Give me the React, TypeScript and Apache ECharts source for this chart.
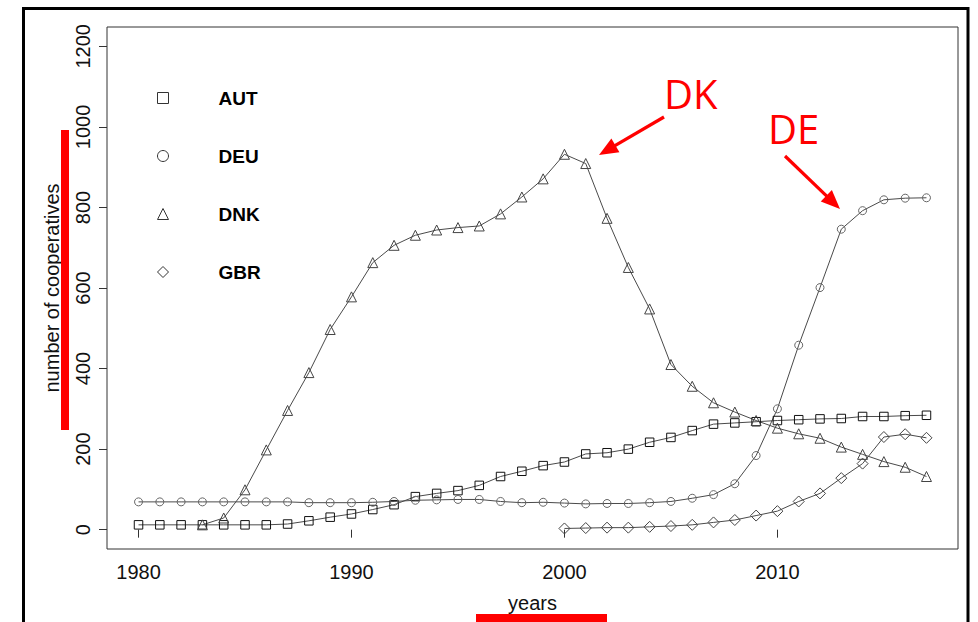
import React, { useEffect, useRef } from "react";
import * as echarts from "echarts";

const years = [
  1980, 1981, 1982, 1983, 1984, 1985, 1986, 1987, 1988, 1989,
  1990, 1991, 1992, 1993, 1994, 1995, 1996, 1997, 1998, 1999,
  2000, 2001, 2002, 2003, 2004, 2005, 2006, 2007, 2008, 2009,
  2010, 2011, 2012, 2013, 2014, 2015, 2016, 2017,
];

const AUT = [
  12, 12, 12, 12, 12, 12, 12, 14, 22, 31,
  39, 50, 62, 82, 90, 97, 110, 132, 145, 159,
  168, 188, 191, 200, 217, 229, 246, 262, 265, 268,
  271, 273, 275, 276, 281, 281, 283, 284,
];

const DEU = [
  69, 69, 69, 69, 69, 69, 69, 69, 67, 67,
  67, 68, 70, 73, 74, 75, 75, 70, 67, 68,
  66, 64, 65, 65, 67, 70, 78, 87, 114, 184,
  300, 458, 601, 746, 792, 819, 823, 824,
];

const DNK = [
  null, null, null, 12, 29, 99, 198, 296, 390, 497,
  578, 663, 706, 731, 744, 750, 754, 784, 826, 871,
  932, 909, 773, 651, 548, 410, 356, 315, 292, 271,
  252, 238, 227, 205, 187, 169, 155, 132,
];

const GBR = [
  null, null, null, null, null, null, null, null, null, null,
  null, null, null, null, null, null, null, null, null, null,
  3, 4, 5, 5, 7, 9, 12, 18, 24, 35,
  46, 70, 90, 128, 164, 230, 237, 228,
];

const seriesNames = ["AUT", "DEU", "DNK", "GBR"];
const seriesValues = [AUT, DEU, DNK, GBR];
const seriesSymbols = ["rect", "circle", "triangle", "diamond"];
const seriesSymbolSizes = [8.5, 8, 10, 11];
const seriesMarkerColors = ["#111", "#666", "#444", "#444"];

const xTicks = [1980, 1990, 2000, 2010];
const yTicks = [0, 200, 400, 600, 800, 1000, 1200];

const FONT = "'Liberation Sans', Arial, sans-serif";

function arrow(sx: number, sy: number, tx: number, ty: number, headLen: number, headHalf: number) {
  const dx = tx - sx;
  const dy = ty - sy;
  const len = Math.sqrt(dx * dx + dy * dy);
  const ux = dx / len;
  const uy = dy / len;
  const bx = tx - ux * headLen;
  const by = ty - uy * headLen;
  const nx = -uy;
  const ny = ux;
  return [
    {
      type: "line",
      shape: { x1: sx, y1: sy, x2: bx + ux * 2, y2: by + uy * 2 },
      style: { stroke: "#ff0000", lineWidth: 3.2 },
      z: 100,
    },
    {
      type: "polygon",
      shape: {
        points: [
          [tx, ty],
          [bx + nx * headHalf, by + ny * headHalf],
          [bx - nx * headHalf, by - ny * headHalf],
        ],
      },
      style: { fill: "#ff0000" },
      z: 100,
    },
  ];
}

export default function App() {
  const ref = useRef<HTMLDivElement>(null);

  useEffect(() => {
    if (!ref.current) return;
    const chart = echarts.init(ref.current, null, { renderer: "svg" });

    const series = seriesNames.map((name, i) => ({
      name,
      type: "line",
      data: years
        .map((y, j) => [y, seriesValues[i][j]])
        .filter((p) => p[1] !== null),
      symbol: seriesSymbols[i],
      symbolSize: seriesSymbolSizes[i],
      showSymbol: true,
      lineStyle: { color: "#4a4a4a", width: 1 },
      itemStyle: {
        color: "rgba(0,0,0,0)",
        borderColor: seriesMarkerColors[i],
        borderWidth: 1,
      },
      emphasis: { disabled: true },
      silent: true,
      z: 3,
    }));

    const option: any = {
      animation: false,
      backgroundColor: "#fff",
      grid: {
        left: 107,
        right: 20,
        top: 27,
        bottom: 73,
        show: true,
        borderColor: "#333",
        borderWidth: 1,
        backgroundColor: "rgba(0,0,0,0)",
      },
      legend: {
        orient: "vertical",
        left: 152,
        top: 83,
        itemWidth: 11,
        itemHeight: 11,
        itemGap: 38,
        selectedMode: false,
        itemStyle: { color: "rgba(0,0,0,0)", borderColor: "#333", borderWidth: 1 },
        textStyle: {
          fontFamily: FONT,
          fontWeight: "bold",
          fontSize: 19,
          color: "#000",
          lineHeight: 20,
          padding: [0, 0, 0, 45],
        },
        data: seriesNames.map((n, i) => ({ name: n, icon: seriesSymbols[i] })),
      },
      xAxis: {
        type: "value",
        min: 1978.52,
        max: 2018.48,
        axisLine: { show: false },
        splitLine: { show: false },
        axisTick: {
          show: true,
          length: 8,
          customValues: xTicks,
          lineStyle: { color: "#333", width: 1 },
        },
        axisLabel: {
          customValues: xTicks,
          formatter: (v: number) => String(v),
          fontFamily: FONT,
          fontSize: 20,
          color: "#111",
          margin: 13,
        },
        name: "years",
        nameLocation: "middle",
        nameGap: 44,
        nameTextStyle: { fontFamily: FONT, fontSize: 20, color: "#111" },
      },
      yAxis: {
        type: "value",
        min: -48,
        max: 1248,
        axisLine: { show: false },
        splitLine: { show: false },
        axisTick: {
          show: true,
          length: 8,
          customValues: yTicks,
          lineStyle: { color: "#333", width: 1 },
        },
        axisLabel: {
          customValues: yTicks,
          formatter: (v: number) => String(v),
          rotate: 90,
          fontFamily: FONT,
          fontSize: 20,
          color: "#111",
          margin: 14,
        },
        name: "number of cooperatives",
        nameLocation: "middle",
        nameRotate: 90,
        nameGap: 45,
        nameTextStyle: { fontFamily: FONT, fontSize: 20, color: "#111" },
      },
      series,
      graphic: [
        {
          type: "rect",
          shape: { x: 23.5, y: 8.5, width: 944.5, height: 700 },
          style: { fill: "none", stroke: "#000", lineWidth: 3 },
          z: 0,
          silent: true,
        },
        {
          type: "rect",
          shape: { x: 61, y: 130, width: 8, height: 300 },
          style: { fill: "#ff0000" },
          z: 50,
          silent: true,
        },
        {
          type: "rect",
          shape: { x: 476, y: 614, width: 131, height: 10 },
          style: { fill: "#ff0000" },
          z: 50,
          silent: true,
        },
        {
          type: "text",
          x: 664,
          y: 93,
          style: {
            text: "DK",
            fill: "#ff0000",
            font: "40px 'Open Sans', 'Noto Sans', sans-serif",
            textAlign: "left",
            textVerticalAlign: "middle",
          },
          z: 100,
        },
        {
          type: "text",
          x: 768,
          y: 128,
          style: {
            text: "DE",
            fill: "#ff0000",
            font: "40px 'Open Sans', 'Noto Sans', sans-serif",
            textAlign: "left",
            textVerticalAlign: "middle",
          },
          z: 100,
        },
        ...arrow(664, 117, 599, 155, 19, 8),
        ...arrow(785, 156, 840, 209, 19, 8),
      ],
    };

    chart.setOption(option);
    return () => chart.dispose();
  }, []);

  return (
    <div
      ref={ref}
      style={{
        position: "fixed",
        left: 0,
        top: 0,
        width: 978,
        height: 622,
        background: "#fff",
      }}
    />
  );
}
